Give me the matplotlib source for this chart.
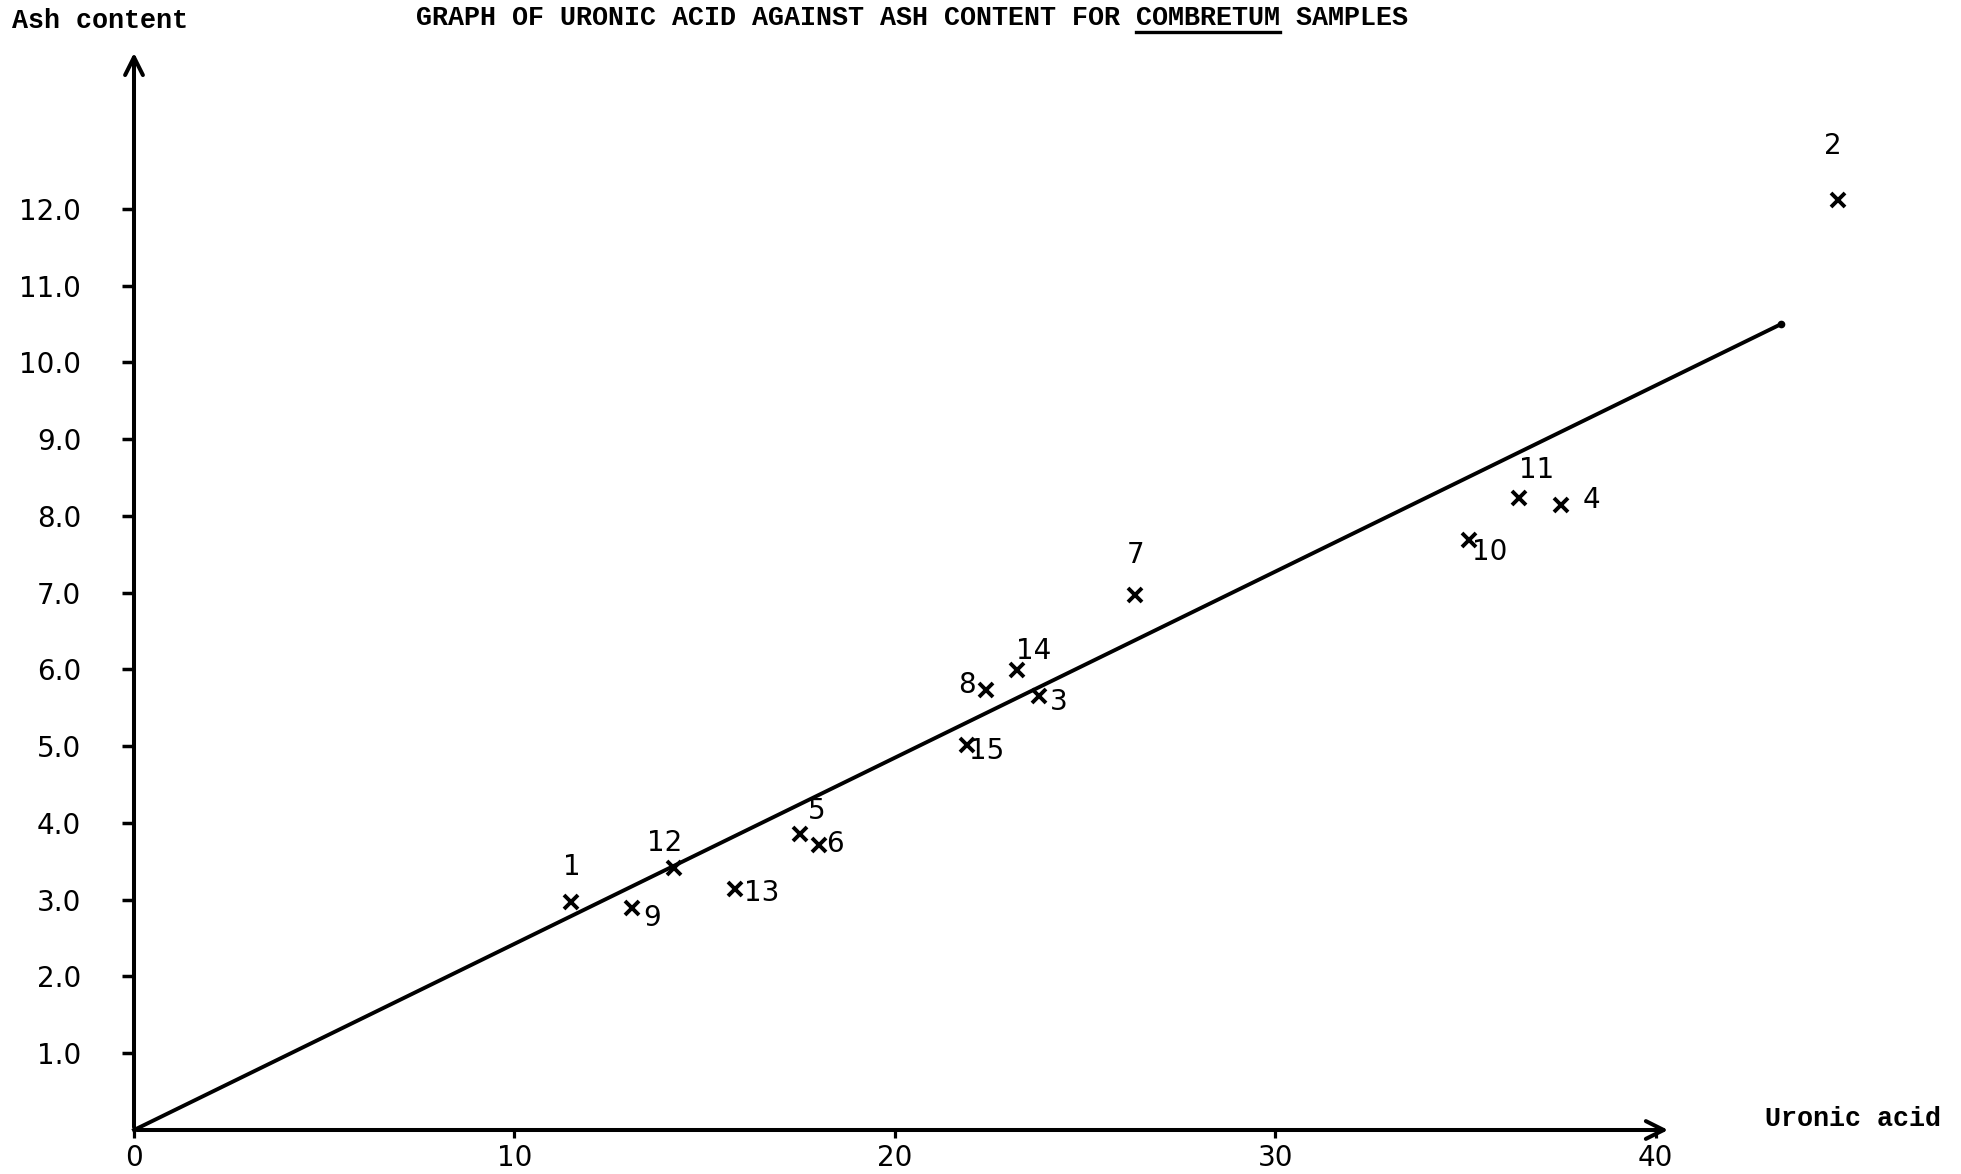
import numpy as np
import matplotlib.pyplot as plt
from matplotlib.lines import Line2D

# Combretum samples: uronic acid vs ash content
samples = ['1', '2', '3', '4', '5', '6', '7', '8', '9', '10', '11', '12', '13', '14', '15']
uronic_acid = [11.5, 44.8, 23.8, 37.5, 17.5, 18.0, 26.3, 22.4, 13.1, 35.1, 36.4, 14.2, 15.8, 23.2, 21.9]
ash_content = [2.97, 12.12, 5.65, 8.14, 3.85, 3.71, 6.97, 5.73, 2.89, 7.68, 8.24, 3.41, 3.14, 5.99, 5.01]

# fitted line through the origin
fit_x = [0, 43.3]
fit_y = [0, 10.5]

y_ticks = [1, 2, 3, 4, 5, 6, 7, 8, 9, 10, 11, 12]
x_ticks = [0, 10, 20, 30, 40]

# where each sample number sits relative to its cross (points)
label_offsets = {
    '1': (0, 25), '2': (-4, 39), '3': (14, -4), '4': (22, 4), '5': (12, 17),
    '6': (12, 1), '7': (1, 29), '8': (-14, 4), '9': (14, -7), '10': (15, -8),
    '11': (13, 20), '12': (-7, 18), '13': (19, -3), '14': (12, 14), '15': (14, -4),
}

mono = 'Liberation Mono'
hand = 'DejaVu Sans'

fig = plt.figure(figsize=(19.61, 11.74), dpi=100)
ax = fig.add_axes([134 / 1961, 44 / 1174, 1788 / 1961, 1113 / 1174])
ax.set_xlim(0, 47)
ax.set_ylim(0, 14.5)
for s in ax.spines.values():
    s.set_visible(False)

# axes drawn as arrows
arrow = dict(arrowstyle='->', lw=2.9, color='black', mutation_scale=32)
ax.annotate('', xy=(40.4, 0), xytext=(0, 0), arrowprops=arrow, annotation_clip=False)
ax.annotate('', xy=(0, 14.07), xytext=(0, 0), arrowprops=arrow, annotation_clip=False)

ax.set_yticks(y_ticks)
ax.set_yticklabels([f'{v:.1f}' for v in y_ticks], fontfamily=hand)
ax.set_xticks(x_ticks)
ax.set_xticklabels([str(v) for v in x_ticks], fontfamily=hand)
ax.tick_params(axis='y', direction='out', length=9, width=2.5, pad=29, labelsize=20)
ax.tick_params(axis='x', direction='out', length=6, width=2.3, pad=4, labelsize=20)

ax.plot(fit_x, fit_y, color='black', lw=2.8, clip_on=False)
ax.plot(fit_x[-1:], fit_y[-1:], 'o', color='black', ms=4.5, clip_on=False)

ax.plot(uronic_acid, ash_content, 'x', color='black', ms=9.5, mew=2.8, clip_on=False)
for name, xv, yv in zip(samples, uronic_acid, ash_content):
    ax.annotate(name, (xv, yv), xytext=label_offsets[name], textcoords='offset points',
                ha='center', va='center', fontsize=20, fontfamily=hand, annotation_clip=False)

fig.text(12 / 1961, 1 - 21 / 1174, 'Ash content', fontfamily=mono, fontweight='bold',
         fontsize=19.3, ha='left', va='center')
fig.text(1765 / 1961, 1 - 1119 / 1174, 'Uronic acid', fontfamily=mono, fontweight='bold',
         fontsize=19.3, ha='left', va='center')

title = 'GRAPH OF URONIC ACID AGAINST ASH CONTENT FOR COMBRETUM SAMPLES'
t = fig.text(416 / 1961, 1 - 18 / 1174, title, fontfamily=mono, fontweight='bold',
             fontsize=19.3, ha='left', va='center')

# underline the genus name
fig.canvas.draw()
bb = t.get_window_extent()
cw = bb.width / len(title)
start = title.index('COMBRETUM')
x0 = (bb.x0 + start * cw) / 1961
x1 = (bb.x0 + (start + len('COMBRETUM')) * cw) / 1961
yl = 1 - 32 / 1174
fig.add_artist(Line2D([x0, x1], [yl, yl], color='black', lw=2.4, transform=fig.transFigure))

fig.savefig('out.png', dpi=100)
